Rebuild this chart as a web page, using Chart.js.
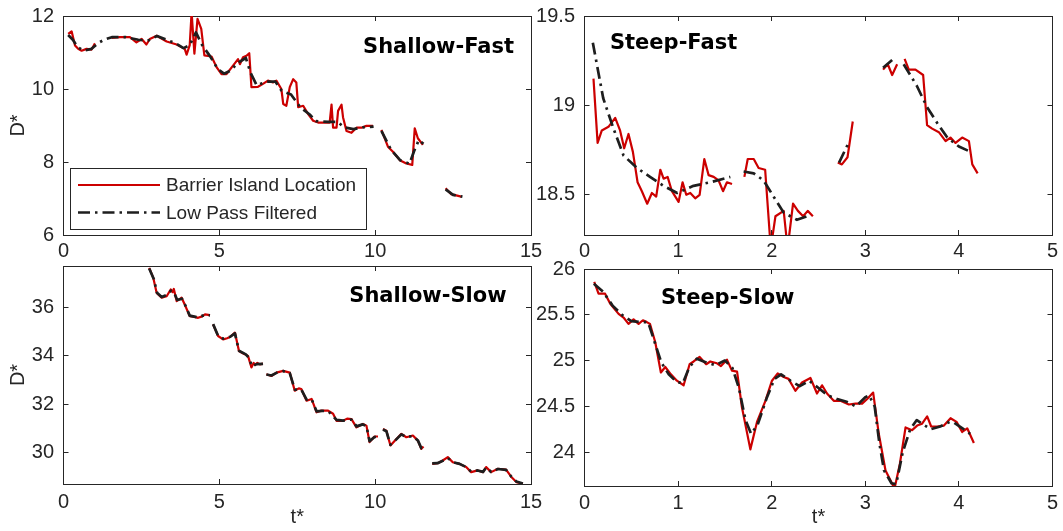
<!DOCTYPE html>
<html><head><meta charset="utf-8">
<script src="https://cdn.jsdelivr.net/npm/chart.js@4.4.0/dist/chart.umd.min.js"></script>
<style>
html,body{margin:0;padding:0;background:#fff;}
#wrap{position:relative;width:1063px;height:531px;overflow:hidden;background:#fff;}
#wrap canvas{position:absolute;left:0;top:0;width:1063px;height:531px;}
</style></head><body>
<div id="wrap">
<canvas id="c1" width="1063" height="531"></canvas>
<canvas id="c2" width="1063" height="531"></canvas>
<canvas id="c3" width="1063" height="531"></canvas>
<canvas id="c4" width="1063" height="531"></canvas>
</div>
<script>
// ---------------- DATA ----------------
// Shallow-Fast
const sfT = [0.15,0.26,0.37,0.47,0.58,0.74,0.9,1.01, 1.25,
 1.54,1.81,2.13,2.34,2.51,2.66,2.77,2.99,3.31,3.63,
 3.89,3.95,4.05,4.11,4.2,4.3,4.42,4.52,4.75,4.91,
 5.07,5.23,5.44,5.6,5.66,5.76,5.87,5.96,6.03,6.24,
 6.4,6.56,6.72,6.83,6.99,7.05,7.15,7.26,7.37,7.47,
 7.53,7.69,7.85,8.01,8.17,8.38,8.54,8.6,8.65,8.76,
 8.81,8.92,8.97,9.08,9.24,9.4,9.56,9.72,9.93, 10.06,
 10.2,10.41,10.57,10.79,11.0,11.19,11.27,11.37,11.53, 11.9,
 12.26,12.44,12.76];
const sfRaw = [11.51,11.58,11.19,11.1,11.05,11.1,11.08,11.25, null,
 11.4,11.42,11.42,11.28,11.37,11.22,11.37,11.46,11.3,11.22,
 11.1,10.94,11.2,12.1,10.97,11.92,11.65,10.92,10.89,10.6,
 10.41,10.41,10.64,10.82,10.68,10.87,10.91,10.98,10.05,10.06,
 10.14,10.23,10.18,10.23,10.0,9.59,9.54,10.05,10.27,10.18,
 9.5,9.54,9.31,9.13,9.08,9.08,9.08,9.57,8.94,8.94,
 9.4,9.57,9.22,8.85,8.8,8.94,8.94,8.99,8.99, null,
 8.88,8.42,8.28,8.05,7.96,7.92,8.92,8.65,8.47, null,
 7.28,7.12,7.05];
const sfFT = [0.15,0.3,0.45,0.65,0.9,1.1,1.3,1.55,2.0,2.4,
 2.7,3.0,3.3,3.6,3.85,4.05,4.25,4.45,4.7,4.95,
 5.15,5.35,5.6,5.85,6.0,6.2,6.5,6.8,7.0,7.3,
 7.6,7.9,8.1,8.5,8.8,9.0,9.3,9.6,9.95, 10.06,
 10.2,10.5,10.8,11.1,11.25,11.4,11.55, 11.9,
 12.26,12.5,12.8];
const sfFilt = [11.48,11.35,11.15,11.05,11.1,11.25,11.35,11.42,11.42,11.35,
 11.32,11.45,11.35,11.25,11.12,11.2,11.55,11.2,10.9,10.55,
 10.42,10.5,10.72,10.85,10.45,10.1,10.2,10.2,9.95,9.85,
 9.5,9.3,9.12,9.1,9.1,8.95,8.9,8.95,8.97, null,
 8.85,8.35,8.05,7.95,8.3,8.6,8.5, null,
 7.25,7.1,7.05];

// Steep-Fast
const stfT = [0.096,0.14,0.185,0.256,0.328,0.38,0.424,0.47,0.517,0.567,
 0.613,0.67,0.72,0.766,0.81,0.845,0.888,0.934,1.005,1.048,
 1.087,1.13,1.183,1.23,1.28,1.326,1.38,1.433,1.48,1.522,
 1.576,1.64,
 1.708,1.744,1.808,1.86,1.93,1.99,2.04,2.128,2.17,2.228,
 2.28,2.336,2.385,2.44,2.6,
 2.706,2.75,2.81,2.866,3.0,
 3.19,3.24,3.287,3.34,3.38,
 3.42,3.465,3.536,3.618,3.66,3.714,3.786,3.858,3.91,3.964,
 4.035,4.107,4.143,4.2];
const stfRaw = [19.15,18.79,18.86,18.88,18.93,18.86,18.76,18.84,18.74,18.57,
 18.52,18.45,18.51,18.49,18.64,18.59,18.6,18.52,18.46,18.57,
 18.5,18.51,18.48,18.5,18.7,18.61,18.6,18.58,18.52,18.57,
 18.56,null,
 18.6,18.7,18.7,18.65,18.64,18.2,18.38,18.41,18.2,18.45,
 18.41,18.38,18.41,18.38,null,
 18.68,18.67,18.71,18.91,null,
 19.2,19.23,19.17,19.23,null,
 19.26,19.2,19.2,19.17,18.89,18.87,18.85,18.8,18.82,18.79,
 18.82,18.8,18.67,18.62];
const stfFT = [0.089,0.2,0.31,0.417,0.56,0.7,0.845,0.99,1.165,1.344,1.558,1.63,
 1.7,1.808,1.914,2.02,2.128,2.27,2.378,2.55,2.72,2.83,3.0,3.19,3.3,3.36,
 3.41,3.55,3.66,3.77,3.876,4.0,4.125];
const stfFilt = [19.35,19.04,18.87,18.72,18.65,18.6,18.55,18.51,18.55,18.57,18.6,null,
 18.63,18.62,18.58,18.49,18.4,18.36,18.38,null,18.68,18.8,null,19.21,19.26,null,
 19.23,19.11,18.99,18.9,18.82,18.77,18.74];

// Shallow-Slow
const sslT = [2.75,2.88,2.99,3.15,3.31,3.44,3.5,3.54,3.63,3.72,
 3.79,3.89,4.05,4.2,4.32,4.45,4.54,4.7,4.75,4.8,
 4.96,5.12,5.25,5.34,5.5,5.63,5.75,5.82,5.92,6.03,
 6.1,6.14,6.22,6.3,6.4,6.45,6.51,6.67,6.83,7.05,
 7.26,7.42,7.55,7.63,7.8,7.96,8.12,8.27,8.49,8.65,
 8.76,8.97,9.1,9.24,9.4,9.61,9.72,9.82,9.98,10.09,
 10.17,10.25,10.36,10.49,10.63,10.84,11.0,11.21,11.37,11.48,
 11.55,11.7,11.83,12.01,12.17,12.33,12.49,12.71,12.92,13.08,
 13.29,13.46,13.56,13.72,13.94,14.2,14.37,14.53,14.74];
const sslRaw = [37.62,37.21,36.59,36.39,36.45,36.73,36.62,36.75,36.25,36.32,
 36.39,36.11,35.63,35.6,35.56,35.62,35.7,35.67,null,35.29,
 34.81,34.67,34.72,34.77,34.95,34.19,34.1,34.06,33.99,33.51,
 33.7,33.62,33.7,33.64,33.67,null,33.23,33.16,33.3,33.37,
 33.3,32.55,32.65,32.62,32.14,32.21,31.66,31.73,31.73,31.6,
 31.31,31.31,31.4,31.38,31.04,31.18,31.11,30.43,30.66,30.66,
 null,30.97,30.9,30.29,30.49,30.77,30.63,30.7,30.49,30.15,
 30.25,null,29.53,29.56,29.67,29.81,29.6,29.53,29.4,29.19,
 29.26,29.19,29.4,29.19,29.33,29.29,28.99,28.78,28.71];
const sslFT = [2.75,2.9,3.0,3.15,3.3,3.45,3.55,3.65,3.8,3.9,
 4.05,4.3,4.55,4.7,4.75,4.8,4.96,5.12,5.35,5.5,
 5.63,5.85,5.95,6.05,6.2,6.4,6.45,6.51,6.67,6.85,
 7.05,7.26,7.42,7.63,7.8,7.96,8.12,8.3,8.5,8.76,
 8.97,9.24,9.4,9.6,9.72,9.82,9.98,10.09,10.17,10.25,
 10.36,10.49,10.63,10.84,11.0,11.21,11.37,11.48,11.55,11.7,
 11.83,12.0,12.17,12.33,12.5,12.71,12.92,13.08,13.29,13.46,
 13.56,13.72,13.94,14.2,14.37,14.53,14.74];
const sslFilt = [37.6,37.15,36.6,36.42,36.5,36.68,36.6,36.3,36.35,36.1,
 35.65,35.58,35.68,35.66,null,35.3,34.82,34.7,34.78,34.92,
 34.2,34.05,33.9,33.55,33.65,33.66,null,33.22,33.18,33.3,
 33.36,33.28,32.6,32.6,32.18,32.2,31.7,31.72,31.7,31.35,
 31.32,31.36,31.08,31.16,31.1,30.47,30.64,30.66,null,30.95,
 30.88,30.32,30.48,30.75,30.64,30.68,30.5,30.18,30.24,null,
 29.55,29.56,29.66,29.77,29.6,29.53,29.4,29.21,29.26,29.2,
 29.38,29.2,29.32,29.28,29.0,28.8,28.72];

// Steep-Slow
const stsT = [0.104,0.15,0.22,0.275,0.364,0.417,0.47,0.524,0.578,0.624,
 0.666,0.7,0.756,0.816,0.863,0.923,0.987,1.059,1.123,1.166,
 1.23,1.3,1.344,1.415,1.458,1.522,1.575,1.63,1.682,1.772,
 1.843,1.933,2.003,2.064,2.128,2.18,2.253,2.324,2.414,2.484,
 2.538,2.591,2.663,2.735,2.824,2.895,2.966,3.02,3.084,3.144,
 3.216,3.27,3.312,3.369,3.43,3.5,3.554,3.607,3.661,3.704,
 3.768,3.84,3.911,3.975,4.035,4.089,4.16];
const stsRaw = [25.86,25.73,25.73,25.62,25.51,25.47,25.4,25.45,25.4,25.44,
 25.42,25.4,25.2,24.87,24.93,24.85,24.78,24.73,24.96,24.99,
 25.04,24.96,24.99,24.97,24.94,25.01,24.89,24.88,24.49,24.03,
 24.33,24.56,24.78,24.86,24.82,24.8,24.67,24.76,24.81,24.64,
 24.73,24.64,24.56,24.56,24.52,24.53,24.53,24.58,24.65,24.2,
 23.8,23.69,23.6,23.87,24.27,24.24,24.29,24.31,24.39,24.28,
 24.28,24.29,24.37,24.33,24.22,24.26,24.1];
const stsFT = [0.1,0.2,0.3,0.4,0.5,0.6,0.68,0.75,0.82,0.9,
 0.98,1.05,1.12,1.2,1.3,1.4,1.5,1.58,1.65,1.72,
 1.78,1.85,1.95,2.03,2.1,2.2,2.3,2.4,2.5,2.6,
 2.7,2.8,2.9,3.0,3.04,3.1,3.15,3.2,3.28,3.33,
 3.4,3.48,3.55,3.62,3.7,3.8,3.9,3.95,4.05,4.12];
const stsFilt = [25.84,25.75,25.6,25.5,25.43,25.42,25.42,25.2,24.98,24.85,
 24.77,24.75,24.93,25.02,24.98,24.95,25.0,24.92,24.7,24.35,
 24.2,24.3,24.6,24.8,24.85,24.78,24.72,24.78,24.7,24.62,
 24.58,24.55,24.5,24.6,24.62,24.5,24.1,23.8,23.66,23.65,
 24.0,24.25,24.35,24.3,24.25,24.28,24.33,24.32,24.25,24.2];

// Tick values
const xTicksShallow = [0, 5, 10, 15];
const xTicksSteep = [0, 1, 2, 3, 4, 5];
const yTicksSF = [6, 8, 10, 12];
const yTicksStF = [18.5, 19, 19.5];
const yTicksSS = [30, 32, 34, 36];
const yTicksStS = [24, 24.5, 25, 25.5, 26];

const seriesLabels = ['Barrier Island Location', 'Low Pass Filtered'];
const panelTitles = ['Shallow-Fast', 'Steep-Fast', 'Shallow-Slow', 'Steep-Slow'];

// ---------------- STYLE / HELPERS ----------------
const W = 1063, H = 531;
const INK = '#262626';
const RED = '#cc0000';
const FILT = '#1e1e1e';
const TICK_FONT = {family: '"Liberation Sans", Arial, sans-serif', size: 20};

function toPts(ts, ds) { return ts.map((t, i) => ({x: t, y: ds[i] === undefined ? null : ds[i]})); }
function fixSize(prop, v) {
  return s => { s[prop] = v; s.paddingLeft = 0; s.paddingRight = 0; s.paddingTop = 0; s.paddingBottom = 0; };
}
function setTicks(arr) { return s => { s.ticks = arr.map(v => ({value: v})); }; }

function axis(pos, min, max, ticks, showLabels, fitFn, title, labelPad) {
  const vertical = pos === 'left' || pos === 'right';
  return {
    type: 'linear', position: pos, min: min, max: max,
    afterBuildTicks: setTicks(ticks),
    afterFit: fitFn,
    grid: {display: true, drawOnChartArea: false, drawTicks: true, tickLength: -5, color: INK, lineWidth: 1},
    border: {display: true, color: INK, width: 1},
    ticks: {display: showLabels, font: TICK_FONT, color: INK, padding: vertical ? 14.5 : labelPad,
            autoSkip: false, maxRotation: 0, minRotation: 0, callback: v => String(v)},
    title: title ? {display: true, text: title, font: TICK_FONT, color: INK, padding: 0} : {display: false}
  };
}

const panelLabel = {
  id: 'panelLabel',
  afterDatasetsDraw(chart, args, o) {
    const {ctx, scales} = chart;
    ctx.save();
    ctx.font = 'bold 21px "DejaVu Sans", Verdana, sans-serif';
    ctx.fillStyle = '#000';
    ctx.textAlign = 'left';
    ctx.textBaseline = 'alphabetic';
    ctx.fillText(o.text, scales.x.getPixelForValue(o.t), scales.y.getPixelForValue(o.d));
    ctx.restore();
  }
};

const boxLegend = {
  id: 'boxLegend',
  afterDraw(chart, args, o) {
    const {ctx, chartArea: a} = chart;
    const x0 = Math.round(a.left + o.inset), y1 = Math.round(a.bottom - o.inset);
    const y0 = y1 - o.height;
    ctx.save();
    ctx.fillStyle = '#fff';
    ctx.fillRect(x0, y0, o.width, o.height);
    ctx.strokeStyle = INK; ctx.lineWidth = 1;
    ctx.strokeRect(x0 + 0.5, y0 + 0.5, o.width, o.height);
    chart.data.datasets.forEach((ds, i) => {
      const y = y0 + o.rowTop + i * o.rowGap;
      ctx.beginPath();
      ctx.setLineDash(ds.borderDash || []);
      ctx.strokeStyle = ds.borderColor; ctx.lineWidth = ds.borderWidth;
      ctx.moveTo(x0 + o.lineStart, y); ctx.lineTo(x0 + o.lineEnd, y);
      ctx.stroke();
      ctx.setLineDash([]);
      ctx.fillStyle = INK;
      ctx.font = '19px "Liberation Sans", Arial, sans-serif';
      ctx.textBaseline = 'middle'; ctx.textAlign = 'left';
      ctx.fillText(ds.label, x0 + o.textStart, y + 1);
    });
    ctx.restore();
  }
};

function makePanel(id, p) {
  const pad = {left: p.area.l - p.yW, top: p.area.t, right: W - p.area.r, bottom: H - p.area.b - p.xH};
  return new Chart(document.getElementById(id), {
    type: 'line',
    data: {datasets: [
      {label: seriesLabels[0], data: toPts(p.rawT, p.raw), borderColor: RED, borderWidth: 2.2,
       order: 2, xAxisID: 'x', yAxisID: 'y'},
      {label: seriesLabels[1], data: toPts(p.filtT, p.filt), borderColor: FILT, borderWidth: 2.7,
       borderDash: [12, 5, 2.5, 5], order: 1, xAxisID: 'x', yAxisID: 'y'}
    ]},
    options: {
      responsive: false, animation: false, devicePixelRatio: 1, events: [],
      spanGaps: false,
      layout: {padding: pad},
      elements: {point: {radius: 0, hoverRadius: 0},
                 line: {tension: 0, fill: false, borderCapStyle: 'butt', borderJoinStyle: 'round'}},
      plugins: {
        legend: {display: false}, tooltip: {enabled: false},
        panelLabel: {text: p.title, t: p.titleT, d: p.titleD},
        boxLegend: p.legend ? {inset: 6.5, width: 296, height: 61, rowTop: 17, rowGap: 27.5,
                               lineStart: 8, lineEnd: 90, textStart: 96} : false
      },
      scales: {
        x: axis('bottom', p.xMin, p.xMax, p.xTicks, true, fixSize('height', p.xH), p.xTitle, p.xPad),
        x2: axis('top', p.xMin, p.xMax, p.xTicks, false, fixSize('height', 0), null, 0),
        y: axis('left', p.yMin, p.yMax, p.yTicks, true, fixSize('width', p.yW), p.yTitle, 0),
        y2: axis('right', p.yMin, p.yMax, p.yTicks, false, fixSize('width', 0), null, 0)
      }
    },
    plugins: [panelLabel, boxLegend]
  });
}

makePanel('c1', {area: {l: 63.5, t: 16, r: 531, b: 235}, yW: 57, xH: 30, xPad: 9,
  xMin: 0, xMax: 15, xTicks: xTicksShallow, yMin: 6, yMax: 12, yTicks: yTicksSF,
  yTitle: 'D*', xTitle: null, rawT: sfT, raw: sfRaw, filtT: sfFT, filt: sfFilt,
  title: panelTitles[0], titleT: 9.61, titleD: 11.0, legend: true});

makePanel('c2', {area: {l: 584.5, t: 16, r: 1052.5, b: 235}, yW: 50, xH: 30, xPad: 9,
  xMin: 0, xMax: 5, xTicks: xTicksSteep, yMin: 18.275, yMax: 19.5, yTicks: yTicksStF,
  yTitle: null, xTitle: null, rawT: stfT, raw: stfRaw, filtT: stfFT, filt: stfFilt,
  title: panelTitles[1], titleT: 0.272, titleD: 19.313, legend: false});

makePanel('c3', {area: {l: 63.5, t: 266, r: 531, b: 484}, yW: 57, xH: 45, xPad: 11,
  xMin: 0, xMax: 15, xTicks: xTicksShallow, yMin: 28.7, yMax: 37.7, yTicks: yTicksSS,
  yTitle: 'D*', xTitle: 't*', rawT: sslT, raw: sslRaw, filtT: sslFT, filt: sslFilt,
  title: panelTitles[2], titleT: 9.17, titleD: 36.2, legend: false});

makePanel('c4', {area: {l: 584.5, t: 269, r: 1052.5, b: 486}, yW: 50, xH: 43, xPad: 10,
  xMin: 0, xMax: 5, xTicks: xTicksSteep, yMin: 23.63, yMax: 26, yTicks: yTicksStS,
  yTitle: null, xTitle: 't*', rawT: stsT, raw: stsRaw, filtT: stsFT, filt: stsFilt,
  title: panelTitles[3], titleT: 0.817, titleD: 25.618, legend: false});
</script>
</body></html>
